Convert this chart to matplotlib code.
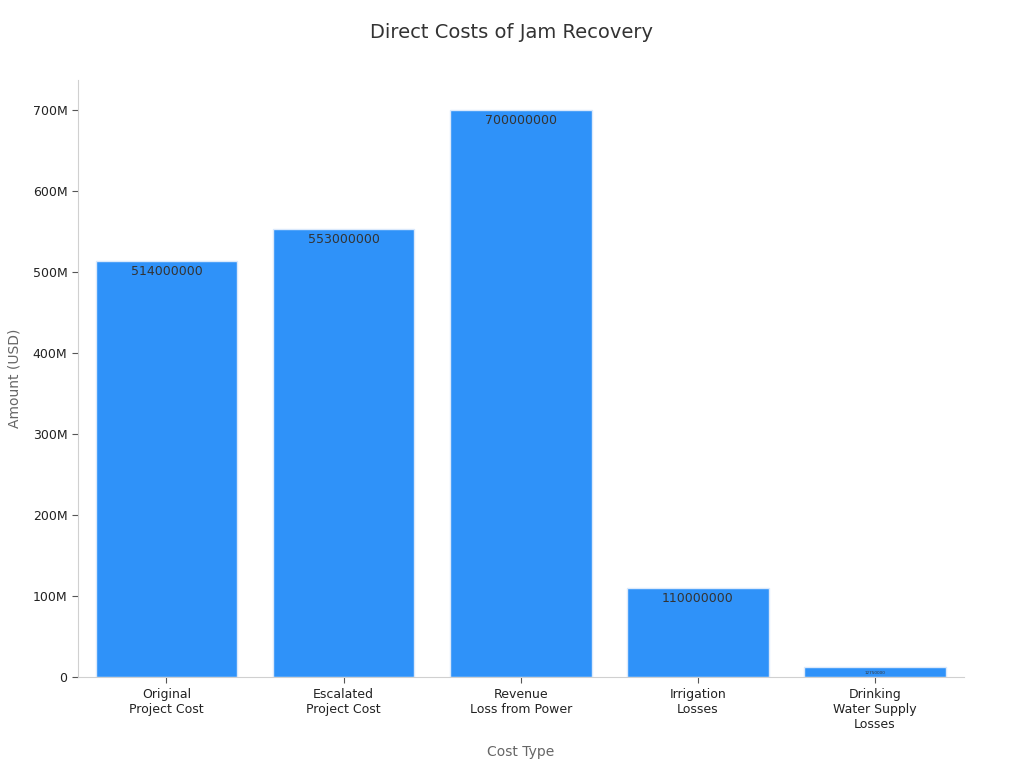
import matplotlib.pyplot as plt
from matplotlib.ticker import FuncFormatter

categories = [
    "Original\nProject Cost",
    "Escalated\nProject Cost",
    "Revenue\nLoss from Power",
    "Irrigation\nLosses",
    "Drinking\nWater Supply\nLosses",
]
amounts = [514000000, 553000000, 700000000, 110000000, 12750000]
label_sizes = [9, 9, 9, 9, 3]


def millions(v, _):
    return "0" if v == 0 else f"{v / 1e6:.0f}M"


fig = plt.figure(figsize=(10.24, 7.68), dpi=100)
ax = fig.add_axes([0.076, 0.118, 0.865, 0.778])

x = range(len(categories))
bars = ax.bar(x, amounts, width=0.8, color="#2f92f9", edgecolor="#dbe9fb", linewidth=1)

for bar, val, fs in zip(bars, amounts, label_sizes):
    ax.text(
        bar.get_x() + bar.get_width() / 2,
        bar.get_height() - 5e6,
        str(val),
        ha="center",
        va="top",
        fontsize=fs,
        color="#333333",
    )

ax.set_xlim(-0.5, 4.5)
ax.set_ylim(0, 737e6)
ax.set_xticks(list(x))
ax.set_xticklabels(categories, fontsize=9, color="#222222")
ax.set_yticks([0, 100e6, 200e6, 300e6, 400e6, 500e6, 600e6, 700e6])
ax.yaxis.set_major_formatter(FuncFormatter(millions))
ax.tick_params(axis="y", labelsize=9, colors="#222222")
ax.tick_params(axis="both", color="#555555", length=4)
for lbl in ax.get_yticklabels():
    lbl.set_color("#222222")

for side in ["top", "right"]:
    ax.spines[side].set_visible(False)
for side in ["left", "bottom"]:
    ax.spines[side].set_color("#d0d0d0")

ax.set_xlabel("Cost Type", fontsize=10, color="#666666", labelpad=10)
ax.set_ylabel("Amount (USD)", fontsize=10, color="#666666", labelpad=8)
fig.suptitle("Direct Costs of Jam Recovery", fontsize=14, color="#333333", y=0.97)

fig.savefig("out.png", dpi=100)
